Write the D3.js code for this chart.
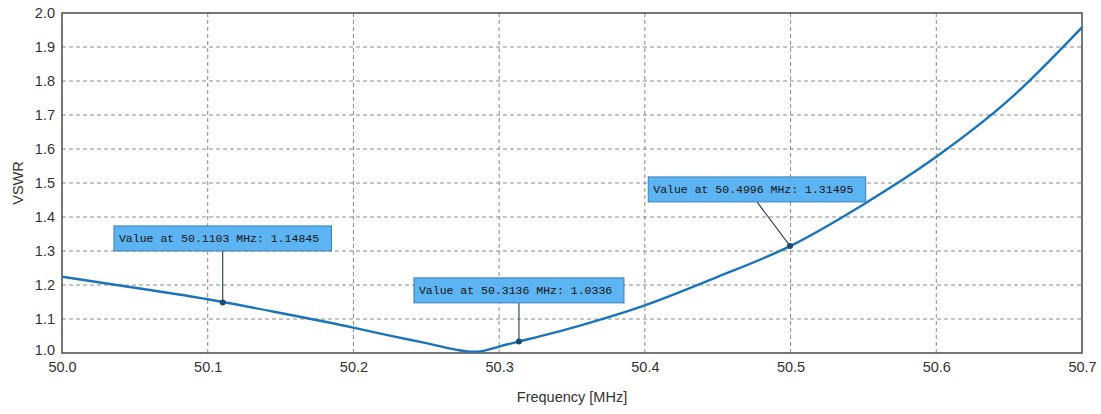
<!DOCTYPE html>
<html>
<head>
<meta charset="utf-8">
<script src="https://cdn.jsdelivr.net/npm/d3@7"></script>
<style>
  html, body { margin: 0; padding: 0; background: #ffffff; }
  svg { display: block; }
</style>
</head>
<body>
<svg id="chart" width="1101" height="414"></svg>
<script>
// ---- data ----
const freqs = [50.0, 50.05, 50.1, 50.15, 50.2, 50.225, 50.25, 50.27, 50.28, 50.285, 50.29, 50.3, 50.3136, 50.35, 50.4, 50.45, 50.5, 50.55, 50.6, 50.65, 50.7];
const vswr  = [1.2245, 1.192, 1.158, 1.1176, 1.0745, 1.051, 1.029, 1.010, 1.004, 1.004, 1.007, 1.019, 1.0336, 1.074, 1.140, 1.224, 1.315, 1.437, 1.577, 1.745, 1.958];

const xTickValues = [50.0, 50.1, 50.2, 50.3, 50.4, 50.5, 50.6, 50.7];
const yTickValues = [1.0, 1.1, 1.2, 1.3, 1.4, 1.5, 1.6, 1.7, 1.8, 1.9, 2.0];

const markerFreqs  = [50.1103, 50.3136, 50.4996];
const markerValues = [1.14845, 1.0336, 1.31495];
const markerLabels = ["Value at 50.1103 MHz: 1.14845", "Value at 50.3136 MHz: 1.0336", "Value at 50.4996 MHz: 1.31495"];

const xTitle = "Frequency [MHz]";
const yTitle = "VSWR";

// ---- layout (not data) ----
const W = 1101, H = 414;
const margin = { left: 62, top: 13, right: 19, bottom: 61 };
const boxOffsetX = [0, 0, -33];     // box centre relative to marker (px)
const boxOffsetY = [-51.6, -38.7, -44]; // box bottom relative to marker (px)

const svg = d3.select("#chart");
const x = d3.scaleLinear().domain([50.0, 50.7]).range([margin.left, W - margin.right]);
const y = d3.scaleLinear().domain([1.0, 2.0]).range([H - margin.bottom, margin.top]);

const fontSans = "Arial, 'Liberation Sans', sans-serif";

// grid
const grid = svg.append("g");
grid.selectAll("line.h").data(yTickValues.slice(1, -1)).enter().append("line")
  .attr("x1", x.range()[0]).attr("x2", x.range()[1])
  .attr("y1", d => y(d)).attr("y2", d => y(d))
  .attr("stroke", "#8a8a8a").attr("stroke-width", 1).attr("stroke-dasharray", "4,3");
grid.selectAll("line.v").data(xTickValues.slice(1, -1)).enter().append("line")
  .attr("y1", y.range()[0]).attr("y2", y.range()[1])
  .attr("x1", d => x(d)).attr("x2", d => x(d))
  .attr("stroke", "#8a8a8a").attr("stroke-width", 1).attr("stroke-dasharray", "4,3");

// axes (labels only)
const xAxis = svg.append("g").attr("transform", `translate(0,${H - margin.bottom})`)
  .call(d3.axisBottom(x).tickValues(xTickValues).tickFormat(d3.format(".1f")).tickSize(0).tickPadding(9));
const yAxis = svg.append("g").attr("transform", `translate(${margin.left},0)`)
  .call(d3.axisLeft(y).tickValues(yTickValues).tickFormat(d3.format(".1f")).tickSize(0).tickPadding(7));
[xAxis, yAxis].forEach(a => {
  a.select(".domain").remove();
  a.selectAll("text").attr("font-family", fontSans).attr("font-size", "14.5px").attr("fill", "#333");
});
yAxis.selectAll(".tick").filter(d => d === 1.0).select("text").attr("dy", "0.1em");

// frame
svg.append("rect")
  .attr("x", x.range()[0]).attr("y", y.range()[1])
  .attr("width", x.range()[1] - x.range()[0]).attr("height", y.range()[0] - y.range()[1])
  .attr("fill", "none").attr("stroke", "#555").attr("stroke-width", 1.6);

// curve
const pts = freqs.map((f, i) => [f, vswr[i]]);
const line = d3.line().x(d => x(d[0])).y(d => y(d[1])).curve(d3.curveMonotoneX);
svg.append("path").datum(pts).attr("d", line)
  .attr("fill", "none").attr("stroke", "#1a74bb").attr("stroke-width", 2.4);

// annotations
const ann = svg.append("g");
markerFreqs.forEach((f, i) => {
  const px = x(f), py = y(markerValues[i]);
  const n = markerLabels[i].length;
  const bw = n * 7.5, bh = 25;
  const cx = px + boxOffsetX[i];
  const bottom = py + boxOffsetY[i];
  const left = cx - bw / 2;
  ann.append("line").attr("x1", cx).attr("y1", bottom).attr("x2", px).attr("y2", py)
    .attr("stroke", "#1e3d59").attr("stroke-width", 1.1);
  ann.append("rect").attr("x", left).attr("y", bottom - bh).attr("width", bw).attr("height", bh)
    .attr("fill", "#5cb5f2").attr("stroke", "#3a7fb8").attr("stroke-width", 1);
  ann.append("text").attr("x", left + 5).attr("y", bottom - bh / 2).attr("dy", "0.35em")
    .attr("font-family", "'Liberation Mono', 'DejaVu Sans Mono', monospace").attr("font-size", "11.5px")
    .attr("fill", "#111").text(markerLabels[i]);
  ann.append("circle").attr("cx", px).attr("cy", py).attr("r", 3).attr("fill", "#1c4a72");
});

// titles
svg.append("text").attr("x", (x.range()[0] + x.range()[1]) / 2).attr("y", 402)
  .attr("text-anchor", "middle").attr("font-family", fontSans).attr("font-size", "14.5px").attr("fill", "#333")
  .text(xTitle);
svg.append("text").attr("transform", `translate(23,${(y.range()[0] + y.range()[1]) / 2}) rotate(-90)`)
  .attr("text-anchor", "middle").attr("font-family", fontSans).attr("font-size", "14.5px").attr("fill", "#333")
  .text(yTitle);
</script>
</body>
</html>
